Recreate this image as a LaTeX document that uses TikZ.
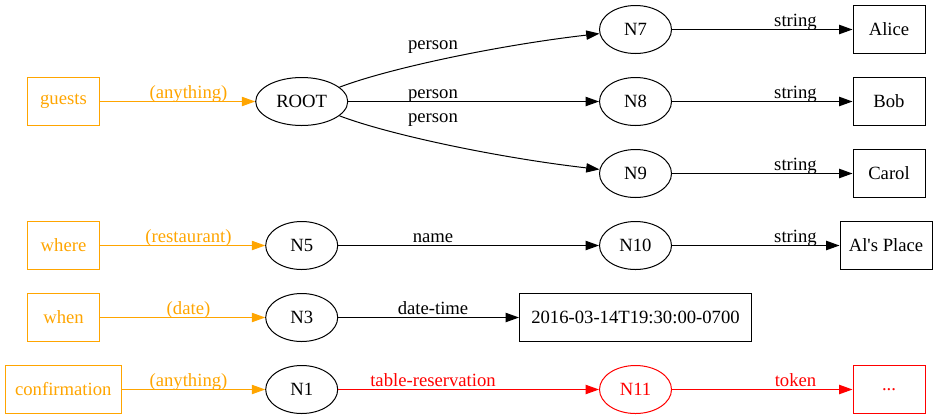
\documentclass[tikz,border=0pt]{standalone}
\usepackage{fontspec}
\setmainfont{Liberation Serif}[Ligatures=TeXOff]
\usetikzlibrary{shapes.geometric,arrows.meta}
\definecolor{gvorange}{rgb}{1,0.647,0}
\definecolor{gvred}{rgb}{1,0,0}
\begin{document}
\begin{tikzpicture}[x=1bp,y=-1bp,
  font=\fontsize{18.67bp}{22bp}\selectfont,
  ell/.style={ellipse,draw,line width=1bp,inner sep=0pt,minimum width=72bp,minimum height=48bp},
  box/.style={rectangle,draw,line width=1bp,inner sep=0pt,minimum width=72bp,minimum height=48bp},
  inp/.style={box,color=gvorange},
  arr/.style={-{Triangle[length=13.3bp,width=9.3bp]},line width=1bp},
  oarr/.style={arr,color=gvorange},
  rarr/.style={arr,color=gvred},
  lbl/.style={anchor=base,inner sep=0pt},
  olbl/.style={lbl,text=gvorange},
  rlbl/.style={lbl,text=gvred}]
\useasboundingbox (0,0) rectangle (942,419);
% left input boxes
\node[inp] (guests) at (63.5,101.5) {guests};
\node[inp] (where) at (63.5,245.5) {where};
\node[inp] (when) at (63.5,317.5) {when};
\node[inp,minimum width=116bp] (conf) at (63.3,389.5) {confirmation};
% ellipses
\node[ell,minimum width=92bp] (root) at (301.7,101.5) {ROOT};
\node[ell] (n5) at (301.7,245.5) {N5};
\node[ell] (n3) at (301.7,317.5) {N3};
\node[ell] (n1) at (301.7,389.5) {N1};
\node[ell] (n7) at (635.5,29.5) {N7};
\node[ell] (n8) at (635.5,101.5) {N8};
\node[ell] (n9) at (635.5,173.5) {N9};
\node[ell] (n10) at (635.5,245.5) {N10};
\node[ell,color=gvred] (n11) at (635.5,389.5) {N11};
% value boxes
\node[box] (alice) at (889,29.5) {Alice};
\node[box] (bob) at (889,101.5) {Bob};
\node[box] (carol) at (889,173.5) {Carol};
\node[box,minimum width=92bp] (alsp) at (886,245.5) {Al's Place};
\node[box,minimum width=232bp] (dt) at (635.5,317.5) {2016-03-14T19:30:00-0700};
\node[box,color=gvred] (dots) at (889,389.5) {...};
% edges
\draw[oarr] (guests) -- (root);
\draw[oarr] (where) -- (n5);
\draw[oarr] (when) -- (n3);
\draw[oarr] (conf) -- (n1);
\draw[arr] (root) .. controls (390,68) and (500,45) .. (n7);
\draw[arr] (root) -- (n8);
\draw[arr] (root) .. controls (390,135) and (500,158) .. (n9);
\draw[arr] (n5) -- (n10);
\draw[arr] (n3) -- (dt);
\draw[rarr] (n1) -- (n11);
\draw[arr] (n7) -- (alice);
\draw[arr] (n8) -- (bob);
\draw[arr] (n9) -- (carol);
\draw[arr] (n10) -- (alsp);
\draw[rarr] (n11) -- (dots);
% labels
\node[olbl] (l1) at (188.5,98.2) {(anything)};
\node[olbl] (l2) at (188.5,242.2) {(restaurant)};
\node[olbl] (l3) at (188.5,314.2) {(date)};
\node[olbl] (l4) at (188.5,386.2) {(anything)};
\node[lbl] (p1) at (433,49.3) {person};
\node[lbl] (p2) at (433,98.2) {person};
\node[lbl] (p3) at (433,122.3) {person};
\node[lbl] (nm) at (433,242.2) {name};
\node[lbl] (dtl) at (433,314.2) {date-time};
\node[rlbl] (tr) at (433,386.2) {table-reservation};
\node[lbl] (s1) at (795.5,26.2) {string};
\node[lbl] (s2) at (795.5,98.2) {string};
\node[lbl] (s3) at (795.5,170.2) {string};
\node[lbl] (s4) at (795.5,242.2) {string};
\node[rlbl] (tk) at (795.5,386.2) {token};
\end{tikzpicture}
\end{document}
